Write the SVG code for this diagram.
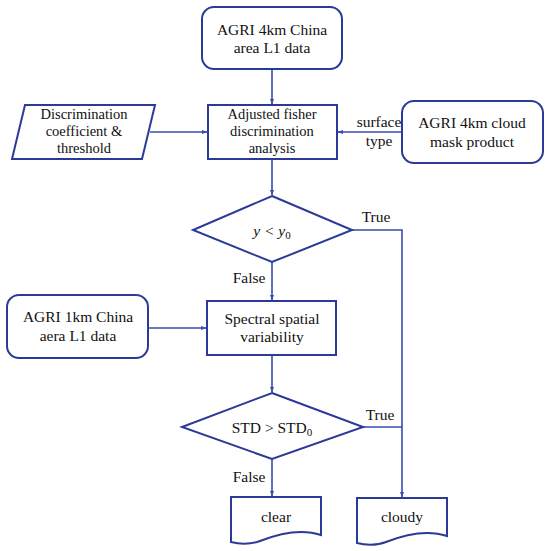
<svg xmlns="http://www.w3.org/2000/svg" width="550" height="551" viewBox="0 0 550 551">
<style>
.s{fill:#fff;stroke:#2b3a97;stroke-width:2}
.c{fill:none;stroke:#3a4bb0;stroke-width:1.6}
text{font-family:"Liberation Serif","Times New Roman",serif;font-size:15.5px;fill:#111;text-anchor:middle}
.t{font-size:14.5px}
</style>
<defs>
<marker id="a" viewBox="0 0 10 10" refX="9" refY="5" markerWidth="6" markerHeight="6" orient="auto" markerUnits="userSpaceOnUse">
<path d="M0,1.5 L10,5 L0,8.5 Z" fill="#3a4bb0"/>
</marker>
</defs>
<rect width="550" height="551" fill="#fff"/>
<g id="connectors">
<path class="c" d="M272,69 V104" marker-end="url(#a)"/>
<path class="c" d="M150,132 H207" marker-end="url(#a)"/>
<path class="c" d="M402,132 H338" marker-end="url(#a)"/>
<path class="c" d="M272,159 V195" marker-end="url(#a)"/>
<path class="c" d="M272,262 V300" marker-end="url(#a)"/>
<path class="c" d="M148,328 H206" marker-end="url(#a)"/>
<path class="c" d="M272,355 V392" marker-end="url(#a)"/>
<path class="c" d="M272,459 V496" marker-end="url(#a)"/>
<path class="c" d="M352,230 H402 V497" marker-end="url(#a)"/>
<path class="c" d="M363,427 H402"/>
<text x="376" y="222">True</text>
<text x="249" y="283">False</text>
<text x="380" y="420">True</text>
<text x="249" y="482">False</text>
<text x="379" y="127">surface</text>
<text x="379" y="146">type</text>
</g>
<g id="n1">
<rect class="s" x="202" y="7" width="140" height="62" rx="12"/>
<text x="272" y="35">AGRI 4km China</text>
<text x="272" y="53">area L1 data</text>
</g>
<g id="n2">
<rect class="s" x="208" y="105" width="129" height="54"/>
<text class="t" x="272" y="119">Adjusted fisher</text>
<text class="t" x="272" y="136">discrimination</text>
<text class="t" x="272" y="153">analysis</text>
</g>
<g id="n3">
<path class="s" d="M25,105 H155 L142,159 H12 Z"/>
<text class="t" x="84" y="119">Discrimination</text>
<text class="t" x="84" y="136">coefficient &amp;</text>
<text class="t" x="84" y="153">threshold</text>
</g>
<g id="n4">
<rect class="s" x="402" y="101" width="141" height="62" rx="12"/>
<text x="472" y="128">AGRI 4km cloud</text>
<text x="472" y="147">mask product</text>
</g>
<g id="n5">
<path class="s" d="M272,196 L352,230 L272,262 L193,230 Z"/>
<text x="272" y="236" font-style="italic" font-size="16">y &lt; y<tspan font-size="11" dy="3" font-style="normal">0</tspan></text>
</g>
<g id="n6">
<rect class="s" x="207" y="301" width="129" height="54"/>
<text x="272" y="324">Spectral spatial</text>
<text x="272" y="342">variability</text>
</g>
<g id="n7">
<rect class="s" x="7" y="295" width="141" height="63" rx="12"/>
<text x="78" y="322">AGRI 1km China</text>
<text x="78" y="341">aera L1 data</text>
</g>
<g id="n8">
<path class="s" d="M272,393 L363,427 L272,459 L182,427 Z"/>
<text x="272" y="433">STD &gt; STD<tspan font-size="11" dy="3">0</tspan></text>
</g>
<g id="n9">
<path class="s" d="M231,497 H321 V535 C300,528 275,535 260,541 C250,545 238,544 231,542 Z"/>
<text x="276" y="522">clear</text>
</g>
<g id="n10">
<path class="s" d="M357,498 H447 V536 C426,529 401,536 386,542 C376,546 364,545 357,543 Z"/>
<text x="402" y="522">cloudy</text>
</g>
</svg>
